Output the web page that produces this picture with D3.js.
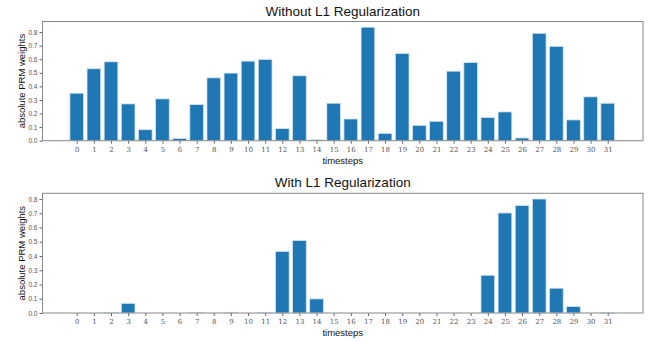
<!DOCTYPE html>
<html>
<head>
<meta charset="utf-8">
<script src="https://cdn.jsdelivr.net/npm/d3@7"></script>
<style>
  body { margin: 0; background: #fff; }
  svg { display: block; font-family: "Liberation Sans", Arial, sans-serif; }
</style>
</head>
<body>
<div id="chart"></div>
<script>
var timesteps = d3.range(0, 32);
var withoutL1 = [0.350, 0.530, 0.581, 0.271, 0.081, 0.308, 0.017, 0.266, 0.463, 0.498,
                 0.586, 0.599, 0.089, 0.478, 0.007, 0.276, 0.160, 0.836, 0.054, 0.643,
                 0.113, 0.143, 0.512, 0.576, 0.170, 0.212, 0.020, 0.791, 0.695, 0.153,
                 0.323, 0.276];
var withL1 = [0, 0, 0.005, 0.068, 0, 0, 0, 0.004, 0, 0.005,
              0, 0.004, 0.432, 0.509, 0.099, 0, 0, 0, 0, 0,
              0, 0, 0, 0, 0.265, 0.702, 0.754, 0.800, 0.174, 0.045,
              0, 0.003];
var yTicks = [0.0, 0.1, 0.2, 0.3, 0.4, 0.5, 0.6, 0.7, 0.8];
var titles = ["Without L1 Regularization", "With L1 Regularization"];

var svgWidth = 649, svgHeight = 343;
var svg = d3.select("#chart").append("svg")
  .attr("width", svgWidth)
  .attr("height", svgHeight);

function drawPanel(values, title, top, bottom) {
  var left = 42.5, right = 643;
  var x = d3.scaleLinear().domain([-2.0, 33.06]).range([left, right]);
  var y = d3.scaleLinear().domain([0, d3.max(values) * 1.05]).range([bottom, top]);
  var g = svg.append("g");

  // bars
  g.selectAll("rect").data(values).enter()
    .append("rect")
    .attr("x", (d, i) => x(timesteps[i] - 0.4))
    .attr("width", x(0.8) - x(0))
    .attr("y", d => y(d))
    .attr("height", d => y(0) - y(d))
    .attr("fill", "#1f77b4")
    .attr("stroke", "#d4e5f1")
    .attr("stroke-width", 0.8);

  // x axis
  var xAxis = d3.axisBottom(x).tickValues(timesteps).tickSize(3).tickPadding(3);
  var gx = g.append("g")
    .attr("transform", "translate(0," + bottom + ")")
    .call(xAxis);
  gx.select(".domain").remove();
  gx.selectAll(".tick line").attr("stroke", "#666");
  gx.selectAll(".tick text").attr("fill", "#555")
    .style("font-family", "'DejaVu Serif', serif").style("font-size", "7px");

  // y axis
  var yAxis = d3.axisLeft(y).tickValues(yTicks).tickFormat(d3.format(".1f")).tickSize(3).tickPadding(2);
  var gy = g.append("g")
    .attr("transform", "translate(" + left + ",0)")
    .call(yAxis);
  gy.select(".domain").remove();
  gy.selectAll(".tick line").attr("stroke", "#666");
  gy.selectAll(".tick text").attr("fill", "#555").style("font-size", "6.5px");

  // frame
  g.append("rect")
    .attr("x", left).attr("y", top)
    .attr("width", right - left).attr("height", bottom - top)
    .attr("fill", "none").attr("stroke", "#888").attr("stroke-width", 1);

  // labels
  g.append("text")
    .attr("x", (left + right) / 2).attr("y", top - 6)
    .attr("text-anchor", "middle")
    .style("font-size", "13.5px").attr("fill", "#111")
    .text(title);

  g.append("text")
    .attr("x", (left + right) / 2).attr("y", bottom + 23)
    .attr("text-anchor", "middle")
    .style("font-size", "9.5px").attr("fill", "#111")
    .text("timesteps");

  g.append("text")
    .attr("transform", "translate(24.5," + (top + bottom) / 2 + ") rotate(-90)")
    .attr("text-anchor", "middle")
    .style("font-size", "9.5px").attr("fill", "#111")
    .text("absolute PRM weights");
}

drawPanel(withoutL1, titles[0], 21.5, 140.7);
drawPanel(withL1, titles[1], 193.3, 313);
</script>
</body>
</html>
